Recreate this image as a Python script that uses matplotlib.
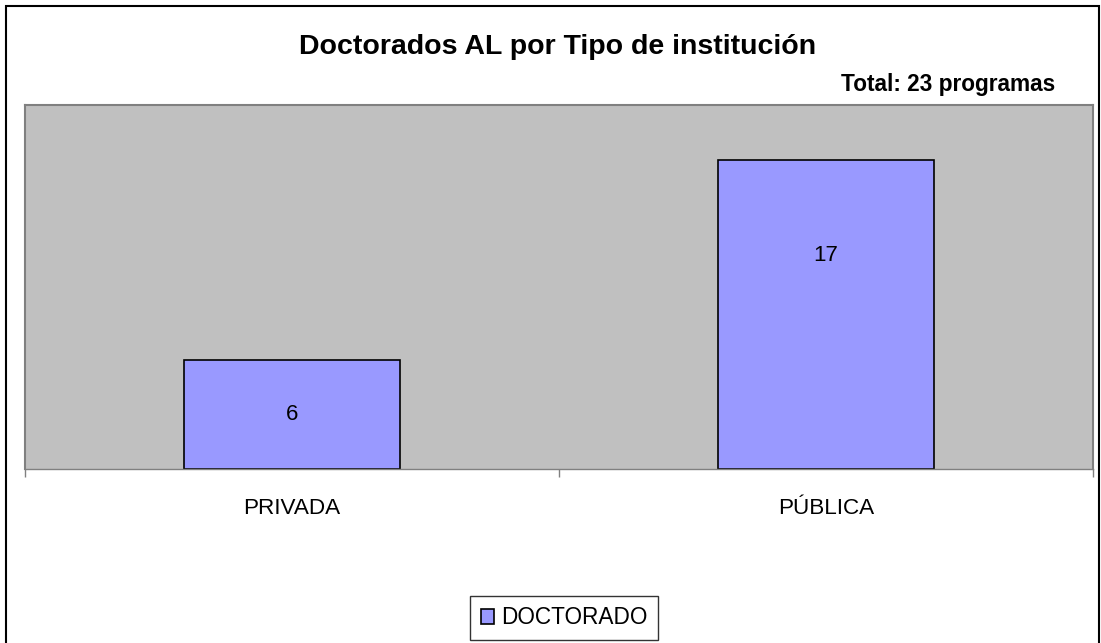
import matplotlib
matplotlib.use("Agg")
import matplotlib.pyplot as plt
from matplotlib.patches import Rectangle

categories = ["PRIVADA", "PÚBLICA"]
valores = [6, 17]
serie = "DOCTORADO"
total_txt = "Total: 23 programas"
titulo = "Doctorados AL por Tipo de institución"

plt.rcParams['font.family'] = ['Liberation Sans', 'DejaVu Sans']

W, H = 1101, 643
fig = plt.figure(figsize=(W / 100, H / 100), dpi=100)

# marco exterior del grafico
fig.patches.append(Rectangle((6 / W, -0.01), (1099 - 6) / W, (H - 6) / H + 0.01,
                             transform=fig.transFigure, fill=False,
                             edgecolor='black', linewidth=1.5))

ax = fig.add_axes([25 / W, (H - 469) / H, 1068 / W, 364 / H])
ax.set_facecolor('#C0C0C0')
x = range(len(categories))
bars = ax.bar(x, valores, width=0.405, color='#9999FF', edgecolor='black',
              linewidth=1.2, label=serie)
ax.set_xlim(-0.5, len(categories) - 0.5)
ax.set_ylim(0, 20)

# etiquetas de valor (Excel las deja algo mas arriba en la barra alta)
for b, v in zip(bars, valores):
    ypos = v / 2 if v < 10 else v * 0.69
    ax.text(b.get_x() + b.get_width() / 2, ypos, str(v), ha='center',
            va='center', fontsize=16)

for s in ['left', 'top', 'right']:
    ax.spines[s].set_color('#808080')
    ax.spines[s].set_linewidth(1.5)
ax.spines['bottom'].set_color('#808080')
ax.spines['bottom'].set_linewidth(1.0)

ax.set_yticks([])
ax.set_xticks([-0.5, 0.5, 1.5])
ax.set_xticklabels([])
ax.tick_params(axis='x', length=6, color='#808080', width=1)
ax.set_xticks(list(x), minor=True)
ax.set_xticklabels(categories, minor=True, fontsize=16.2)
ax.tick_params(axis='x', which='minor', length=0, pad=21)

fig.text(558 / W, 1 - 47 / H, titulo, ha='center', va='center',
         fontsize=20.5, fontweight='bold')
fig.text(1055 / W, 1 - 84 / H, total_txt, ha='right', va='center',
         fontsize=16.3, fontweight='bold')

leg = fig.legend(loc='center', bbox_to_anchor=(564 / W, 1 - 618 / H),
                 fontsize=16.3, frameon=True, fancybox=False, handlelength=0.6,
                 handleheight=0.6, handletextpad=0.3, borderpad=0.45,
                 borderaxespad=0)
leg.get_frame().set_edgecolor('black')
leg.get_frame().set_linewidth(1.0)

fig.savefig('out.png', dpi=100)
